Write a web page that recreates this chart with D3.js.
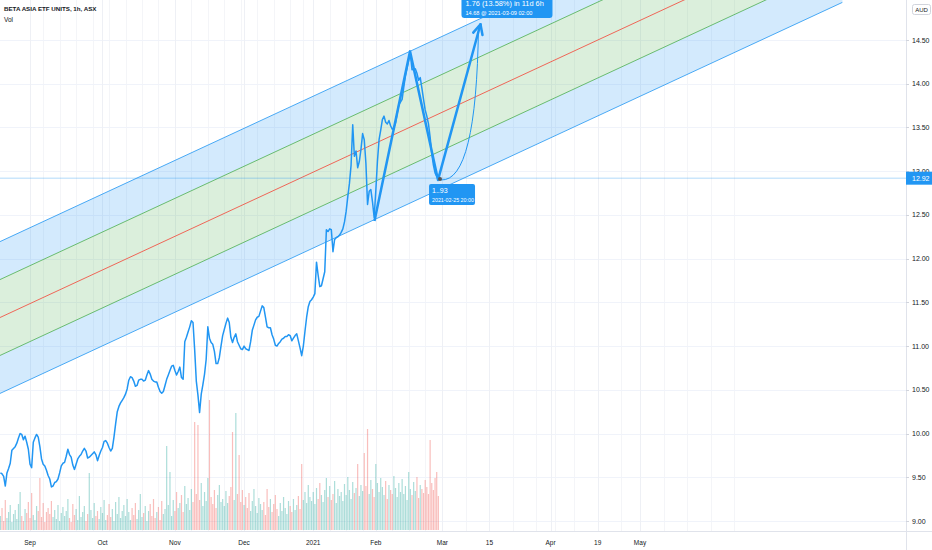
<!DOCTYPE html>
<html><head><meta charset="utf-8">
<script src="https://cdn.jsdelivr.net/npm/d3@7"></script>
<style>body{margin:0;background:#fff}svg{display:block}text{font-family:"Liberation Sans",Arial,sans-serif}</style>
</head><body><svg id="c" width="932" height="550"></svg>
<script>
// ---------------- data ----------------
const title = "BETA ASIA ETF UNITS, 1h, ASX";
const volLabel = "Vol";
const currency = "AUD";
// trading-day index (0 = 2020-09-01) of the first half-day slot, and slot length in trading days
const firstSlotDay = -9;
const slotStep = 0.5;
const prices = [
9.55,9.54,9.51,9.40,9.55,9.60,9.66,9.81,9.83,9.85,
9.89,9.95,10.00,9.99,9.93,9.97,9.90,9.82,9.65,9.61,
9.90,9.95,9.99,9.96,9.85,9.71,9.65,9.63,9.58,9.52,
9.48,9.39,9.40,9.44,9.45,9.48,9.55,9.63,9.66,9.67,
9.74,9.82,9.76,9.73,9.64,9.59,9.65,9.71,9.74,9.76,
9.80,9.83,9.80,9.72,9.73,9.75,9.77,9.79,9.76,9.69,
9.75,9.80,9.84,9.91,9.92,9.89,9.84,9.80,9.83,9.96,
10.11,10.25,10.31,10.35,10.38,10.41,10.45,10.51,10.61,10.65,
10.64,10.60,10.54,10.55,10.61,10.62,10.62,10.60,10.61,10.67,
10.72,10.68,10.62,10.60,10.59,10.59,10.53,10.48,10.46,10.48,
10.55,10.62,10.67,10.72,10.77,10.78,10.72,10.67,10.71,10.76,
10.64,10.62,11.05,11.10,11.16,11.22,11.29,11.27,10.96,10.60,
10.44,10.24,10.45,10.56,10.68,10.85,11.22,11.09,11.04,11.02,
10.94,10.80,10.80,10.87,11.00,11.12,11.19,11.26,11.32,11.27,
11.10,11.04,11.10,11.14,11.05,11.01,10.97,10.96,11.00,10.97,
10.96,10.95,11.05,11.18,11.24,11.30,11.33,11.34,11.40,11.46,
11.44,11.33,11.22,11.21,11.21,11.13,11.08,11.01,11.00,11.03,
11.05,11.08,11.09,11.11,11.11,11.13,11.12,11.06,11.09,11.12,
11.14,11.06,10.98,10.89,11.00,11.17,11.33,11.45,11.51,11.53,
11.56,11.60,11.96,11.81,11.68,11.69,11.77,11.85,12.33,12.31,
12.34,12.33,12.08,12.22,12.24,12.25,12.27,12.30,12.34,12.42,
12.54,12.71,12.86,13.07,13.53,13.17,13.23,13.04,13.11,13.25,
13.43,13.36,13.09,12.62,12.77,12.79,12.65,12.47,12.77,13.11,
13.36,13.47,13.59,13.63,13.56,13.54,13.58,13.52,13.48,13.50,
13.55,13.66,13.76,13.79,13.82,13.96,14.09,14.18,14.27,14.34,
14.16,14.17,14.17,14.12,14.04,14.07,13.95,13.82,13.70,13.63,
13.54,13.39,13.20,13.07,12.98,12.94,12.92
];
const volumes = [
14,22,9,30,12,18,25,8,16,20,
11,26,38,14,9,21,17,28,12,37,
15,10,24,19,52,13,27,8,18,22,
16,29,13,20,11,25,9,17,23,14,
19,31,12,8,26,15,21,10,34,13,
18,24,9,16,57,20,12,27,14,19,
11,23,17,30,10,15,26,13,21,9,
28,16,33,12,19,25,14,31,18,10,
22,15,27,11,20,36,13,17,24,9,
19,26,14,31,12,18,23,10,29,16,
21,84,25,58,14,30,19,38,22,27,
35,18,44,26,32,20,41,28,108,36,
105,30,47,24,38,29,52,130,33,26,
40,22,35,45,28,31,24,39,27,34,
43,98,30,117,36,75,28,40,25,33,
22,37,19,29,41,24,17,32,26,20,
28,15,41,23,31,18,26,35,21,14,
27,19,33,22,16,29,24,18,31,20,
25,34,21,66,30,38,27,45,33,29,
38,26,42,31,47,35,28,40,52,33,
44,30,36,49,27,41,34,38,29,46,
35,53,40,31,48,37,42,66,34,45,
39,77,44,101,36,50,41,33,66,47,
38,52,43,35,49,31,45,40,36,54,
42,33,47,38,51,36,44,30,58,41,
35,48,39,53,32,45,41,37,50,43,
36,90,47,40,52,58,34
];
const priceTicks = [9.0,9.5,10.0,10.5,11.0,11.5,12.0,12.5,13.0,13.5,14.0,14.5];
const timeTickLabels = ["Sep","Oct","Nov","Dec","2021","Feb","Mar","15","Apr","19","May"];
const timeTickDates = ["2020-09-01","2020-10-01","2020-11-02","2020-12-01","2021-01-04","2021-02-01","2021-03-01","2021-03-15","2021-04-01","2021-04-19","2021-05-03"];
const holidays = ["2020-12-25","2020-12-28","2021-01-01","2021-01-26","2021-04-02","2021-04-05","2021-04-26"];
const calendarStart = "2020-09-01";
const lastDataDay = 124.5;
const lastPrice = 12.92;
// regression channel (trading-day index, mid price) and deviations
const channelDays = [-10, 210];
const channelMid = [11.311, 15.798];
const channelDevs = [0.434, 0.868];
// drawn zigzag / projection
const zigDays = [104.6, 115.4, 123.9, 133.1];
const zigPrices = [12.43, 14.37, 12.90, 14.68];
const measureText = ["1.76 (13.58%) in 11d 6h", "14.68 @ 2021-03-09  02:00"];
const pointText = ["1..93", "2021-02-25 20:00"];

// ---------------- layout ----------------
const W = 932, H = 550, plotR = 906, plotB = 531;
const svg = d3.select("#c");

const hol = new Set(holidays);
const fmt = d3.utcFormat("%Y-%m-%d");
const isTrading = d => d.getUTCDay()!==0 && d.getUTCDay()!==6 && !hol.has(fmt(d));
function tradingIndex(ds){
  const s = new Date(calendarStart+"T00:00:00Z"), e = new Date(ds+"T00:00:00Z");
  return d3.utcDay.range(s, e).filter(isTrading).length;
}
const futureEnd = tradingIndex("2021-05-03");
const x = d3.scaleLinear().domain([0, lastDataDay, futureEnd]).range([30, 440, 640]);
const y = d3.scaleLinear().domain([9, 14.5]).range([521, 40]);
const vy = d3.scaleLinear().domain([0, 130]).range([0, 130]);
const volBase = 530;

svg.append("defs").append("clipPath").attr("id","clip")
  .append("rect").attr("x",0).attr("y",0).attr("width",plotR).attr("height",plotB);

const plot = svg.append("g").attr("clip-path","url(#clip)");

// grid: faint weekly lines, month ticks, price ticks
const weekStarts = d3.utcMonday.range(new Date("2020-08-17T00:00:00Z"), new Date("2021-06-01T00:00:00Z"))
   .map(d => tradingIndex(fmt(d)));
plot.selectAll(".wg").data(weekStarts).join("line")
  .attr("x1",d=>Math.round(x(d))+0.5).attr("x2",d=>Math.round(x(d))+0.5).attr("y1",0).attr("y2",plotB)
  .attr("stroke","#f4f5f8").attr("stroke-width",1);
plot.selectAll(".hg").data(priceTicks).join("line")
  .attr("x1",0).attr("x2",plotR).attr("y1",d=>Math.round(y(d))+0.5).attr("y2",d=>Math.round(y(d))+0.5)
  .attr("stroke","#f0f3fa").attr("stroke-width",1);
const tickIdx = timeTickDates.map(tradingIndex);
plot.selectAll(".vg").data(tickIdx).join("line")
  .attr("x1",d=>Math.round(x(d))+0.5).attr("x2",d=>Math.round(x(d))+0.5).attr("y1",0).attr("y2",plotB)
  .attr("stroke","#eef0f5").attr("stroke-width",1);

// volume
const slotDay = i => firstSlotDay + i*slotStep;
plot.selectAll(".vol").data(volumes).join("rect")
  .attr("x",(d,i)=>x(slotDay(i))-0.6).attr("width",1.2)
  .attr("y",d=>volBase-vy(d)).attr("height",d=>vy(d))
  .attr("fill",(d,i)=> (i===0 || prices[i]>=prices[i-1]) ? "rgba(38,166,154,0.38)" : "rgba(239,83,80,0.38)");

// channel
const chLine = off => [[x(channelDays[0]), y(channelMid[0]+off)],[x(channelDays[1]), y(channelMid[1]+off)]];
function band(a,b){
  const A = chLine(a), B = chLine(b);
  return `M${A[0]}L${A[1]}L${B[1]}L${B[0]}Z`;
}
plot.append("path").attr("d",band(channelDevs[1],channelDevs[0])).attr("fill","rgba(33,150,243,0.2)");
plot.append("path").attr("d",band(channelDevs[0],-channelDevs[0])).attr("fill","rgba(76,175,80,0.2)");
plot.append("path").attr("d",band(-channelDevs[0],-channelDevs[1])).attr("fill","rgba(33,150,243,0.2)");
const lineGen = d3.line();
[[channelDevs[1],"#2196f3"],[channelDevs[0],"#4caf50"],[0,"#f44336"],[-channelDevs[0],"#4caf50"],[-channelDevs[1],"#2196f3"]]
 .forEach(([o,c])=>{
   plot.append("path").attr("d",lineGen(chLine(o))).attr("stroke",c).attr("stroke-width",1).attr("fill","none").attr("opacity",0.8);
 });

// last price line
plot.append("line").attr("x1",0).attr("x2",plotR).attr("y1",y(lastPrice)).attr("y2",y(lastPrice))
  .attr("stroke","#2196f3").attr("stroke-opacity",0.35).attr("stroke-width",1);

// price line
plot.append("path").datum(prices)
  .attr("d", d3.line().x((d,i)=>x(slotDay(i))).y(d=>y(d)))
  .attr("fill","none").attr("stroke","#2196f3").attr("stroke-width",1.5).attr("stroke-linejoin","round");

// zigzag drawing
const zp = zigDays.map((d,i)=>[x(d), y(zigPrices[i])]);
plot.append("path").attr("d", lineGen(zp)).attr("fill","none").attr("stroke","#2196f3").attr("stroke-width",2.5).attr("stroke-linejoin","round");
const [tx,ty] = zp[3], [px,py] = zp[2];
const ang = Math.atan2(ty-py, tx-px);
[0.45,-0.45].forEach(a=>{
  plot.append("line").attr("x1",tx).attr("y1",ty)
    .attr("x2",tx-11*Math.cos(ang+a)).attr("y2",ty-11*Math.sin(ang+a))
    .attr("stroke","#2196f3").attr("stroke-width",2.5).attr("stroke-linecap","round");
});
plot.append("path").attr("d",`M${px+3},${py}Q${tx-4},${py+2} ${tx-2},${ty+3}`)
  .attr("fill","none").attr("stroke","#2196f3").attr("stroke-width",1);
plot.append("circle").attr("cx",px+2).attr("cy",py-1).attr("r",2).attr("fill","#555");

// labels on drawing
const lb = svg.append("g");
lb.append("rect").attr("x",px-9).attr("y",py+4).attr("width",46).attr("height",21).attr("rx",2).attr("fill","#2196f3");
lb.append("text").attr("x",px-6).attr("y",py+13).attr("fill","#fff").attr("font-size",7).text(pointText[0]);
lb.append("text").attr("x",px-6).attr("y",py+22).attr("fill","#fff").attr("font-size",5.3).text(pointText[1]);

lb.append("rect").attr("x",tx-19).attr("y",-6).attr("width",91).attr("height",24).attr("rx",3).attr("fill","#2196f3");
lb.append("text").attr("x",tx-15).attr("y",6).attr("fill","#fff").attr("font-size",7.4).text(measureText[0]);
lb.append("text").attr("x",tx-15).attr("y",14.5).attr("fill","#fff").attr("font-size",5.6).text(measureText[1]);

// axes borders
svg.append("line").attr("x1",plotR+0.5).attr("x2",plotR+0.5).attr("y1",0).attr("y2",H).attr("stroke","#e0e3eb");
svg.append("line").attr("x1",0).attr("x2",W).attr("y1",plotB+0.5).attr("y2",plotB+0.5).attr("stroke","#e0e3eb");

// price axis
const pa = svg.append("g");
priceTicks.forEach(t=>{
  pa.append("line").attr("x1",plotR).attr("x2",plotR+3).attr("y1",Math.round(y(t))+0.5).attr("y2",Math.round(y(t))+0.5).attr("stroke","#d1d4dc");
  pa.append("text").attr("x",912).attr("y",y(t)+2.5).attr("font-size",7).attr("fill","#131722").text(t.toFixed(2));
});
pa.append("rect").attr("x",plotR).attr("y",y(lastPrice)-6.5).attr("width",W-plotR).attr("height",13).attr("fill","#2196f3");
pa.append("text").attr("x",912).attr("y",y(lastPrice)+2.5).attr("font-size",7).attr("fill","#fff").text(lastPrice.toFixed(2));
pa.append("rect").attr("x",912.5).attr("y",4.5).attr("width",18).attr("height",10).attr("rx",2).attr("fill","#fff").attr("stroke","#d1d4dc");
pa.append("text").attr("x",921.5).attr("y",11.6).attr("text-anchor","middle").attr("font-size",6).attr("fill","#131722").text(currency);

// time axis
const ta = svg.append("g");
timeTickLabels.forEach((l,i)=>{
  ta.append("text").attr("x",x(tickIdx[i])).attr("y",545).attr("text-anchor","middle").attr("font-size",6.5).attr("fill","#131722").text(l);
});

// legend
svg.append("text").attr("x",4).attr("y",11).attr("font-size",6.2).attr("font-weight","bold").attr("fill","#131722").text(title);
svg.append("text").attr("x",4).attr("y",22).attr("font-size",6.5).attr("fill","#131722").text(volLabel);
</script></body></html>
